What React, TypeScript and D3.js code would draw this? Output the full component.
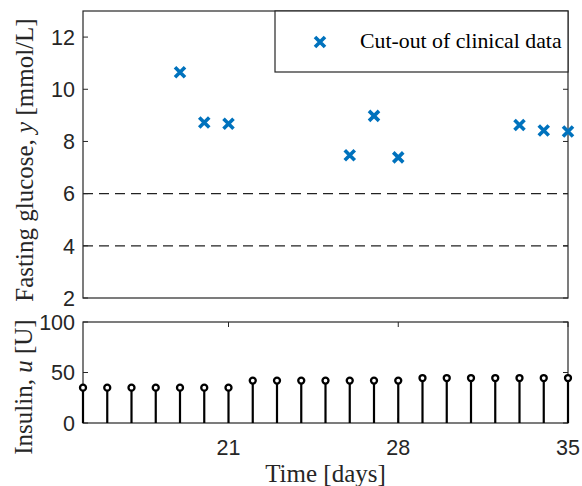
import React from "react";
import * as d3 from "d3";

const glucoseDays = [19, 20, 21, 26, 27, 28, 33, 34, 35];
const glucoseValues = [10.65, 8.73, 8.68, 7.47, 8.98, 7.39, 8.63, 8.42, 8.38];
const insulinDays = [15, 16, 17, 18, 19, 20, 21, 22, 23, 24, 25, 26, 27, 28, 29, 30, 31, 32, 33, 34, 35];
const insulinValues = [35, 35, 35, 35, 35, 35, 35, 42, 42, 42, 42, 42, 42, 42, 44.5, 44.5, 44.5, 44.5, 44.5, 44.5, 44.5];
const thresholds = [6, 4];
const xTicks = [21, 28, 35];
const yTopTicks = [2, 4, 6, 8, 10, 12];
const yBotTicks = [0, 50, 100];
const legendLabel = "Cut-out of clinical data";

const W = 582, H = 486;
const L = 83, R = 568;
const x = d3.scaleLinear().domain([15, 35]).range([L, R]);
const yTop = d3.scaleLinear().domain([2, 13]).range([298, 11]);
const yBot = d3.scaleLinear().domain([0, 100]).range([423, 322]);

const AX = "#262626";
const BLUE = "#0072BD";
const SANS = "'Liberation Sans', Arial, Helvetica, sans-serif";
const SERIF = "'Liberation Serif', 'Times New Roman', serif";
const TICK = 5;

function Frame({ yScale, yTicks, xTickVals, showXLabels }: { yScale: d3.ScaleLinear<number, number>; yTicks: number[]; xTickVals: number[]; showXLabels: boolean }) {
  const [y0, y1] = yScale.range();
  return (
    <g>
      {yTicks.map((t) => (
        <g key={"y" + t}>
          <line x1={L} x2={L + TICK} y1={yScale(t)} y2={yScale(t)} stroke={AX} strokeWidth={1} />
          <line x1={R} x2={R - TICK} y1={yScale(t)} y2={yScale(t)} stroke={AX} strokeWidth={1} />
          <text x={L - 8} y={yScale(t)} dy="0.36em" textAnchor="end" fontFamily={SANS} fontSize={21.5} fill={AX}>{t}</text>
        </g>
      ))}
      {xTickVals.map((t) => (
        <g key={"x" + t}>
          <line x1={x(t)} x2={x(t)} y1={y0} y2={y0 - TICK} stroke={AX} strokeWidth={1} />
          <line x1={x(t)} x2={x(t)} y1={y1} y2={y1 + TICK} stroke={AX} strokeWidth={1} />
          {showXLabels && (
            <text x={x(t)} y={y0 + 32} textAnchor="middle" fontFamily={SANS} fontSize={21.5} fill={AX}>{t}</text>
          )}
        </g>
      ))}
      <rect x={L} y={y1} width={R - L} height={y0 - y1} fill="none" stroke={AX} strokeWidth={1.2} />
    </g>
  );
}

function XMark({ cx, cy, s = 5 }: { cx: number; cy: number; s?: number }) {
  return (
    <path
      d={`M${cx - s},${cy - s}L${cx + s},${cy + s}M${cx - s},${cy + s}L${cx + s},${cy - s}`}
      stroke={BLUE}
      strokeWidth={3.6}
      fill="none"
    />
  );
}

export default function App() {
  return (
    <svg width={W} height={H} style={{ position: "absolute", left: 0, top: 0, background: "#fff" }}>
      <rect width={W} height={H} fill="#fff" />
      {/* Top panel */}
      {thresholds.map((t) => (
        <line key={t} x1={L} x2={R} y1={yTop(t)} y2={yTop(t)} stroke="#222" strokeWidth={1.2} strokeDasharray="10,6" />
      ))}
      <Frame yScale={yTop} yTicks={yTopTicks} xTickVals={[]} showXLabels={false} />
      {glucoseDays.map((d, i) => (
        <XMark key={d} cx={x(d)} cy={yTop(glucoseValues[i])} />
      ))}
      {/* Legend */}
      <rect x={275} y={11} width={R - 275} height={61} fill="#fff" stroke={AX} strokeWidth={1.2} />
      <XMark cx={320} cy={42} />
      <text x={360} y={48} fontFamily={SERIF} fontSize={21.8} fill="#000">{legendLabel}</text>
      <text transform={`translate(33,160) rotate(-90)`} textAnchor="middle" fontFamily={SERIF} fontSize={25} fill={AX}>
        Fasting glucose, <tspan fontStyle="italic">y</tspan> [mmol/L]
      </text>

      {/* Bottom panel */}
      <Frame yScale={yBot} yTicks={yBotTicks} xTickVals={xTicks} showXLabels={true} />
      {insulinDays.map((d, i) => (
        <g key={d}>
          <line x1={x(d)} x2={x(d)} y1={yBot(0)} y2={yBot(insulinValues[i])} stroke="#000" strokeWidth={2.2} />
          <circle cx={x(d)} cy={yBot(insulinValues[i])} r={3} fill="#fff" stroke="#000" strokeWidth={2.3} />
        </g>
      ))}
      <text transform={`translate(32,387) rotate(-90)`} textAnchor="middle" fontFamily={SERIF} fontSize={25} fill={AX}>
        Insulin, <tspan fontStyle="italic">u</tspan> [U]
      </text>
      <text x={(L + R) / 2} y={482} textAnchor="middle" fontFamily={SERIF} fontSize={25} fill={AX}>
        Time [days]
      </text>
    </svg>
  );
}
